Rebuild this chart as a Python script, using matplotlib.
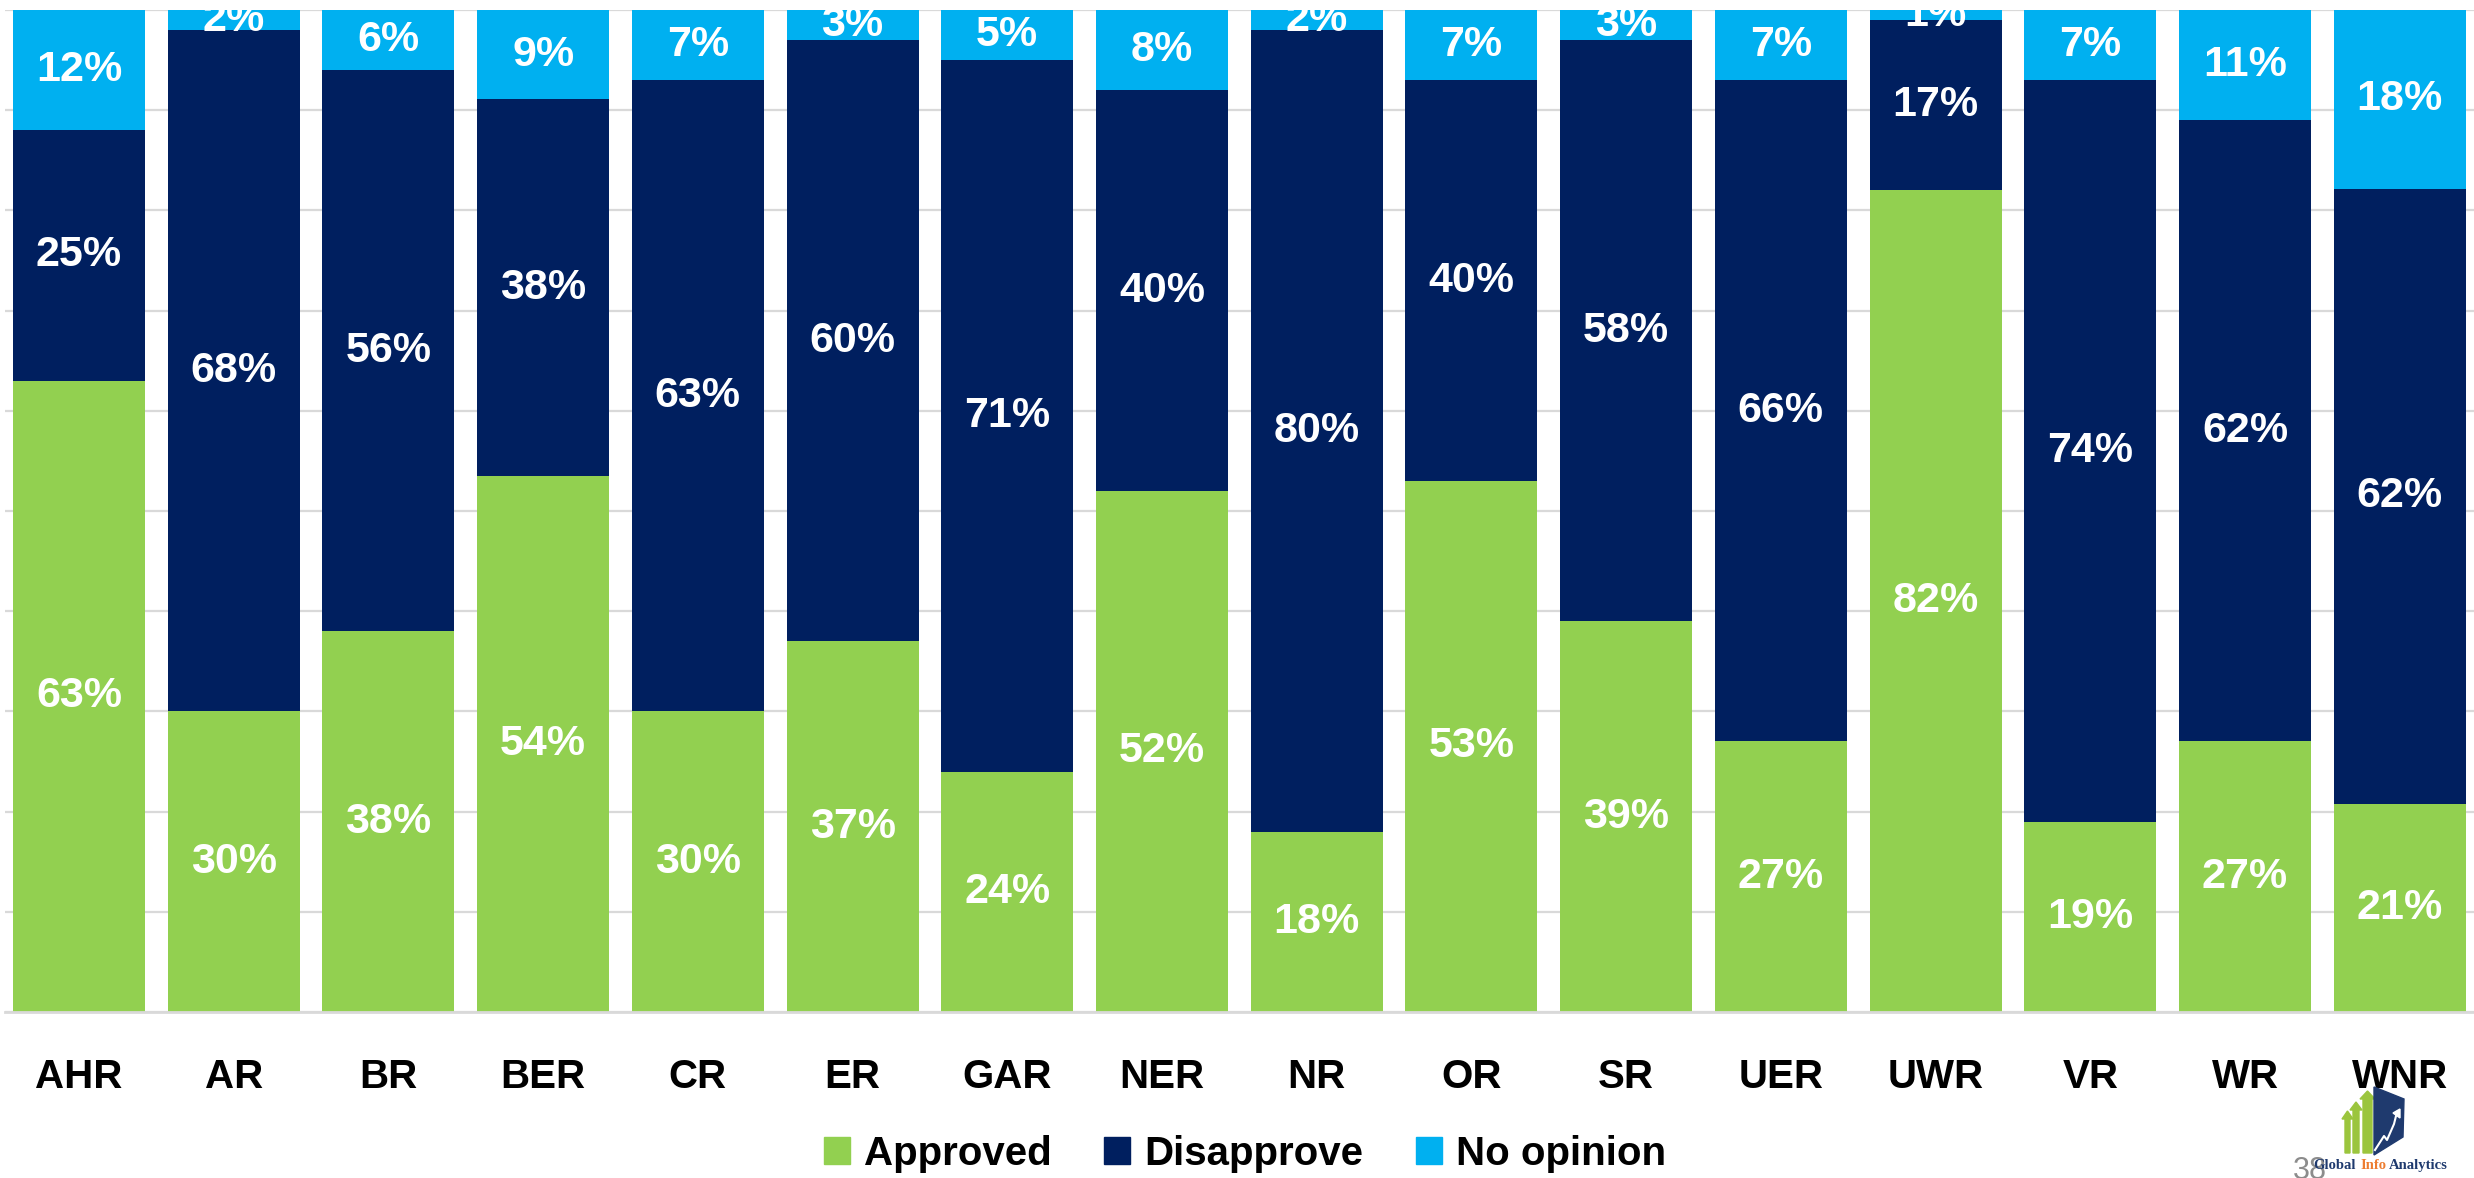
import numpy as np
import matplotlib
matplotlib.use("Agg")
import matplotlib.pyplot as plt
from matplotlib.patches import Polygon, Patch

regions = ['AHR', 'AR', 'BR', 'BER', 'CR', 'ER', 'GAR', 'NER', 'NR', 'OR',
           'SR', 'UER', 'UWR', 'VR', 'WR', 'WNR']
approved = [63, 30, 38, 54, 30, 37, 24, 52, 18, 53, 39, 27, 82, 19, 27, 21]
disapprove = [25, 68, 56, 38, 63, 60, 71, 40, 80, 40, 58, 66, 17, 74, 62, 62]
no_opinion = [12, 2, 6, 9, 7, 3, 5, 8, 2, 7, 3, 7, 1, 7, 11, 18]

series = [('Approved', approved, '#92D050'),
          ('Disapprove', disapprove, '#001F5F'),
          ('No opinion', no_opinion, '#00B0F0')]

W, H = 2474, 1178
plt.rcParams['font.family'] = ['Liberation Sans', 'DejaVu Sans']

fig = plt.figure(figsize=(W / 100, H / 100), dpi=100)
ax = fig.add_axes([5 / W, (H - 1012) / H, (W - 5) / W, 1002 / H])

x = np.arange(len(regions))
totals = np.array(approved) + np.array(disapprove) + np.array(no_opinion)
bottom = np.zeros(len(regions))
for name, vals, col in series:
    share = np.array(vals) / totals
    ax.bar(x, share, 0.853, bottom=bottom, color=col, label=name, zorder=2)
    for xi, b, s, v in zip(x, bottom, share, vals):
        ax.text(xi, b + s / 2, f"{v}%", ha='center', va='center',
                color='white', fontsize=31, fontweight='bold',
                clip_on=True, zorder=3)
    bottom += share

ax.set_xlim(-0.478, 15.48)
ax.set_ylim(0, 1)
ax.set_yticks(np.arange(0, 1.01, 0.1))
ax.yaxis.grid(True, color='#D9D9D9', lw=1.6, zorder=0)
ax.set_axisbelow(True)
ax.tick_params(axis='y', left=False, labelleft=False)
ax.set_xticks(x)
ax.set_xticklabels(regions, fontsize=29, fontweight='bold')
ax.tick_params(axis='x', length=0, pad=33)
for s in ['top', 'left', 'right']:
    ax.spines[s].set_visible(False)
ax.spines['bottom'].set_color('#D9D9D9')
ax.spines['bottom'].set_linewidth(2)

handles = [Patch(color=c, label=n) for n, _, c in series]
fig.legend(handles=handles, loc='center', bbox_to_anchor=(1245 / W, 1 - 1154 / H),
           ncol=3, frameon=False, prop={'size': 29, 'weight': 'bold'},
           handlelength=0.65, handleheight=0.65, handletextpad=0.35,
           columnspacing=1.3)


# small logo and page number, bottom right
def px(xp, yp):
    return (xp / W, 1 - yp / H)


for x0, x1, ytop in [(2345, 2350, 1111), (2353, 2359, 1102), (2363, 2372, 1091)]:
    xm = (x0 + x1) / 2
    pts = [px(x0, 1153), px(x1, 1153), px(x1, ytop + 8), px(x1 + 3, ytop + 8),
           px(xm, ytop), px(x0 - 3, ytop + 8), px(x0, ytop + 8)]
    fig.patches.append(Polygon(pts, closed=True, color='#9BC53D',
                               transform=fig.transFigure))
fig.patches.append(Polygon([px(2374, 1087), px(2404, 1099), px(2403, 1137), px(2374, 1155)],
                           closed=True, color='#1F3A6E', transform=fig.transFigure))
zz = np.array([px(2375, 1150), px(2384, 1136), px(2387, 1140), px(2394, 1124), px(2397, 1112)])
fig.lines.append(plt.Line2D(zz[:, 0], zz[:, 1], color='white', lw=1.5,
                            transform=fig.transFigure))
fig.patches.append(Polygon([px(2393, 1113), px(2400, 1109), px(2400, 1118)], closed=True,
                           color='white', transform=fig.transFigure))

fig.text(2293 / W, 1 - 1156 / H, "38", ha='left', va='top', fontsize=22, color='#8C8C8C')
for word, xw, col in [("Global", 2313, '#1F3A6E'), ("Info", 2360, '#ED7D31'),
                      ("Analytics", 2389, '#1F3A6E')]:
    fig.text(xw / W, 1 - 1169 / H, word, ha='left', va='baseline', fontsize=10.5,
             fontweight='bold', family='Liberation Serif', color=col)

fig.savefig('out.png', dpi=100)
